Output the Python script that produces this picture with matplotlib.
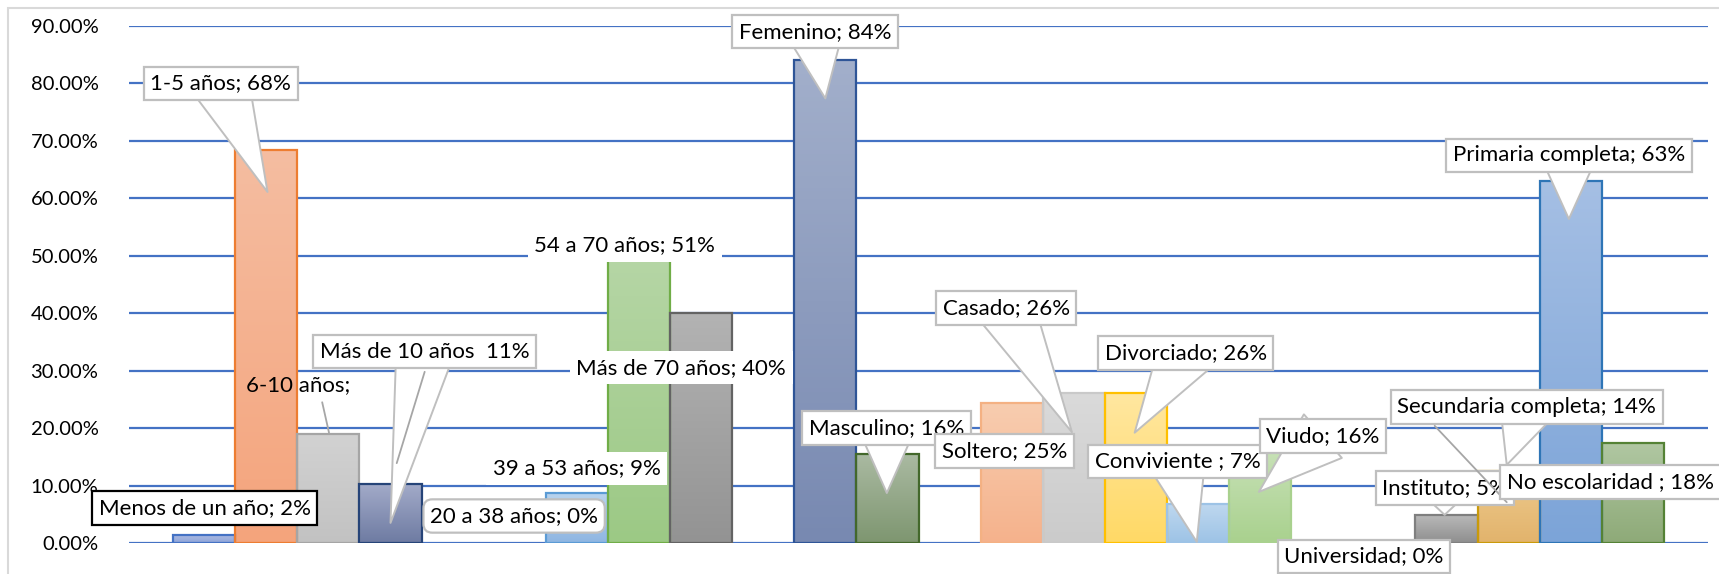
import numpy as np
import matplotlib.pyplot as plt
from matplotlib.colors import LinearSegmentedColormap
from matplotlib.patches import Rectangle

plt.rcParams['font.family'] = ['Lato', 'DejaVu Sans']

# datos (None = hueco entre grupos)
categorias = ["Menos de un año", "1-5 años", "6-10 años", "Más de 10 años", None,
              "20 a 38 años", "39 a 53 años", "54 a 70 años", "Más de 70 años", None,
              "Femenino", "Masculino", None,
              "Soltero", "Casado", "Divorciado", "Conviviente", "Viudo", None,
              "Universidad", "Instituto", "Secundaria completa", "Primaria completa", "No escolaridad"]
valores = [1.4, 68.4, 19.0, 10.3, None,
           0, 8.7, 51, 40.0, None,
           84.1, 15.5, None,
           24.4, 26.1, 26.1, 6.8, 16, None,
           0, 4.9, 12.5, 63, 17.4]
etiquetas = ["Menos de un año; 2%", "1-5 años; 68%", "6-10 años;", "Más de 10 años  11%", None,
             "20 a 38 años; 0%", "39 a 53 años; 9%", "54 a 70 años; 51%", "Más de 70 años; 40%", None,
             "Femenino; 84%", "Masculino; 16%", None,
             "Soltero; 25%", "Casado; 26%", "Divorciado; 26%", "Conviviente ; 7%", "Viudo; 16%", None,
             "Universidad; 0%", "Instituto; 5%", "Secundaria completa; 14%", "Primaria completa; 63%",
             "No escolaridad ; 18%"]
yticks = [0, 10, 20, 30, 40, 50, 60, 70, 80, 90]

# colores: (arriba, abajo, borde)
colores = [("#AEBCE3", "#8EA4D8", "#4472C4"), ("#F5BDA1", "#F4A47C", "#ED7D31"),
           ("#D2D2D2", "#C2C2C2", "#A5A5A5"), ("#A3ABC9", "#6E7BA2", "#264478"), None,
           ("#B5CFEA", "#8DB4E2", "#5B9BD5"), ("#B8D3EE", "#8FB6E2", "#5B9BD5"),
           ("#B6D6A6", "#9CC985", "#70AD47"), ("#B3B3B3", "#939393", "#636363"), None,
           ("#A2AFCB", "#7889B1", "#2F5597"), ("#AABAA2", "#7E9670", "#43682B"), None,
           ("#F8CDB0", "#F5B28C", "#F4B183"), ("#DADADA", "#CBCBCB", "#C9C9C9"),
           ("#FFE7A0", "#FFD966", "#FFC000"), ("#BFD8EF", "#9DC3E6", "#9DC3E6"),
           ("#C7E1B6", "#A9D18E", "#A9D18E"), None,
           ("#F5BDA1", "#F4A47C", "#ED7D31"), ("#BABABA", "#8E8E8E", "#7F7F7F"),
           ("#EECB8E", "#E2B36C", "#C99A0A"), ("#A5BFE4", "#7CA4D8", "#2E75B6"),
           ("#B0C7A2", "#8EAA78", "#548235")]

W, H = 1719, 574
fig = plt.figure(figsize=(W / 100, H / 100), dpi=100)
ax = fig.add_axes([129 / W, 1 - 543 / H, (1708 - 129) / W, (543 - 26) / H])

for y in yticks:
    ax.axhline(y, color="#4472C4", lw=1.6, zorder=0)

for i, (v, c) in enumerate(zip(valores, colores)):
    if v is None:
        continue
    if v > 0:
        cmap = LinearSegmentedColormap.from_list("g", [c[1], c[0]])
        ax.imshow(np.linspace(0, 1, 128).reshape(-1, 1), extent=(i - 0.5, i + 0.5, 0, v),
                  cmap=cmap, origin="lower", aspect="auto", zorder=2)
        ax.bar(i, v, width=1.0, color="none", edgecolor=c[2], lw=1.6, zorder=3)

fs = 16
gris = "#BFBFBF"
z = [6]


def callout(texto, centro, punta=None, borde=gris, estilo="square"):
    caja = dict(boxstyle=f"{estilo},pad=0.3", fc="white", ec=borde, lw=1.6)
    flecha = None
    if punta is not None:
        flecha = dict(arrowstyle="wedge,tail_width=2.6,shrink_factor=0.5", fc="white", ec=gris,
                      lw=1.4, patchA=None, shrinkA=0, shrinkB=0)
    z[0] += 1
    ax.annotate(texto, xy=punta if punta else centro, xytext=centro, ha="center", va="center",
                fontsize=fs, bbox=caja, arrowprops=flecha, annotation_clip=False, zorder=z[0])


def linea(a, b):
    z[0] += 1
    ax.annotate("", xy=b, xytext=a, annotation_clip=False, zorder=z[0],
                arrowprops=dict(arrowstyle="-", color="#A6A6A6", lw=1.3, shrinkA=0, shrinkB=0))


callout(etiquetas[1], (0.27, 80.0), (1.02, 61.1))
ax.text(1.51, 27.5, etiquetas[2], ha="center", va="center", fontsize=fs, zorder=6)
linea((1.90, 24.5), (2.01, 19.2))
callout(etiquetas[3], (3.55, 33.3), (3.0, 3.5))
linea((3.55, 29.8), (3.10, 13.9))
callout(etiquetas[0], (0.01, 6.1), borde="black")
callout(etiquetas[6], (6.0, 13.0), borde="none")
callout(etiquetas[5], (4.99, 4.7), estilo="round,rounding_size=0.4")
callout(etiquetas[7], (6.77, 51.9), borde="none")
callout(etiquetas[8], (7.68, 30.5), borde="none")
callout(etiquetas[10], (9.84, 89.0), (10.0, 77.4))
callout(etiquetas[11], (10.99, 20.0), (10.99, 8.7))
callout(etiquetas[14], (12.91, 40.9), (13.97, 19.3))
callout(etiquetas[13], (12.88, 16.0))
callout(etiquetas[15], (15.80, 33.1), (14.98, 19.2))
callout(etiquetas[16], (15.67, 14.2), (15.98, 0.2))
callout(etiquetas[17], (18.01, 18.6), (16.98, 8.9))
callout(etiquetas[19], (18.67, -2.3))
callout(etiquetas[22], (21.97, 67.5), (21.97, 56.4))
callout(etiquetas[21], (21.29, 23.7), (20.97, 13.6))
callout(etiquetas[20], (19.97, 9.6), (19.97, 4.9))
linea((19.81, 20.4), (20.97, 7.1))
callout(etiquetas[23], (22.64, 10.6))

ax.set_xlim(-1.21, 24.21)
ax.set_ylim(0, 90)
ax.set_yticks(yticks)
ax.set_yticklabels([f"{t:.2f}%" for t in yticks])
ax.set_xticks([])
ax.tick_params(axis="y", length=0, pad=22, labelsize=14.5)
for s in ax.spines.values():
    s.set_visible(False)

fig.add_artist(Rectangle((8 / W, -0.1), 1.1, 1 - 8 / H + 0.1, transform=fig.transFigure,
                         fill=False, ec="#D9D9D9", lw=1.5))

plt.savefig("out.png", dpi=100)
